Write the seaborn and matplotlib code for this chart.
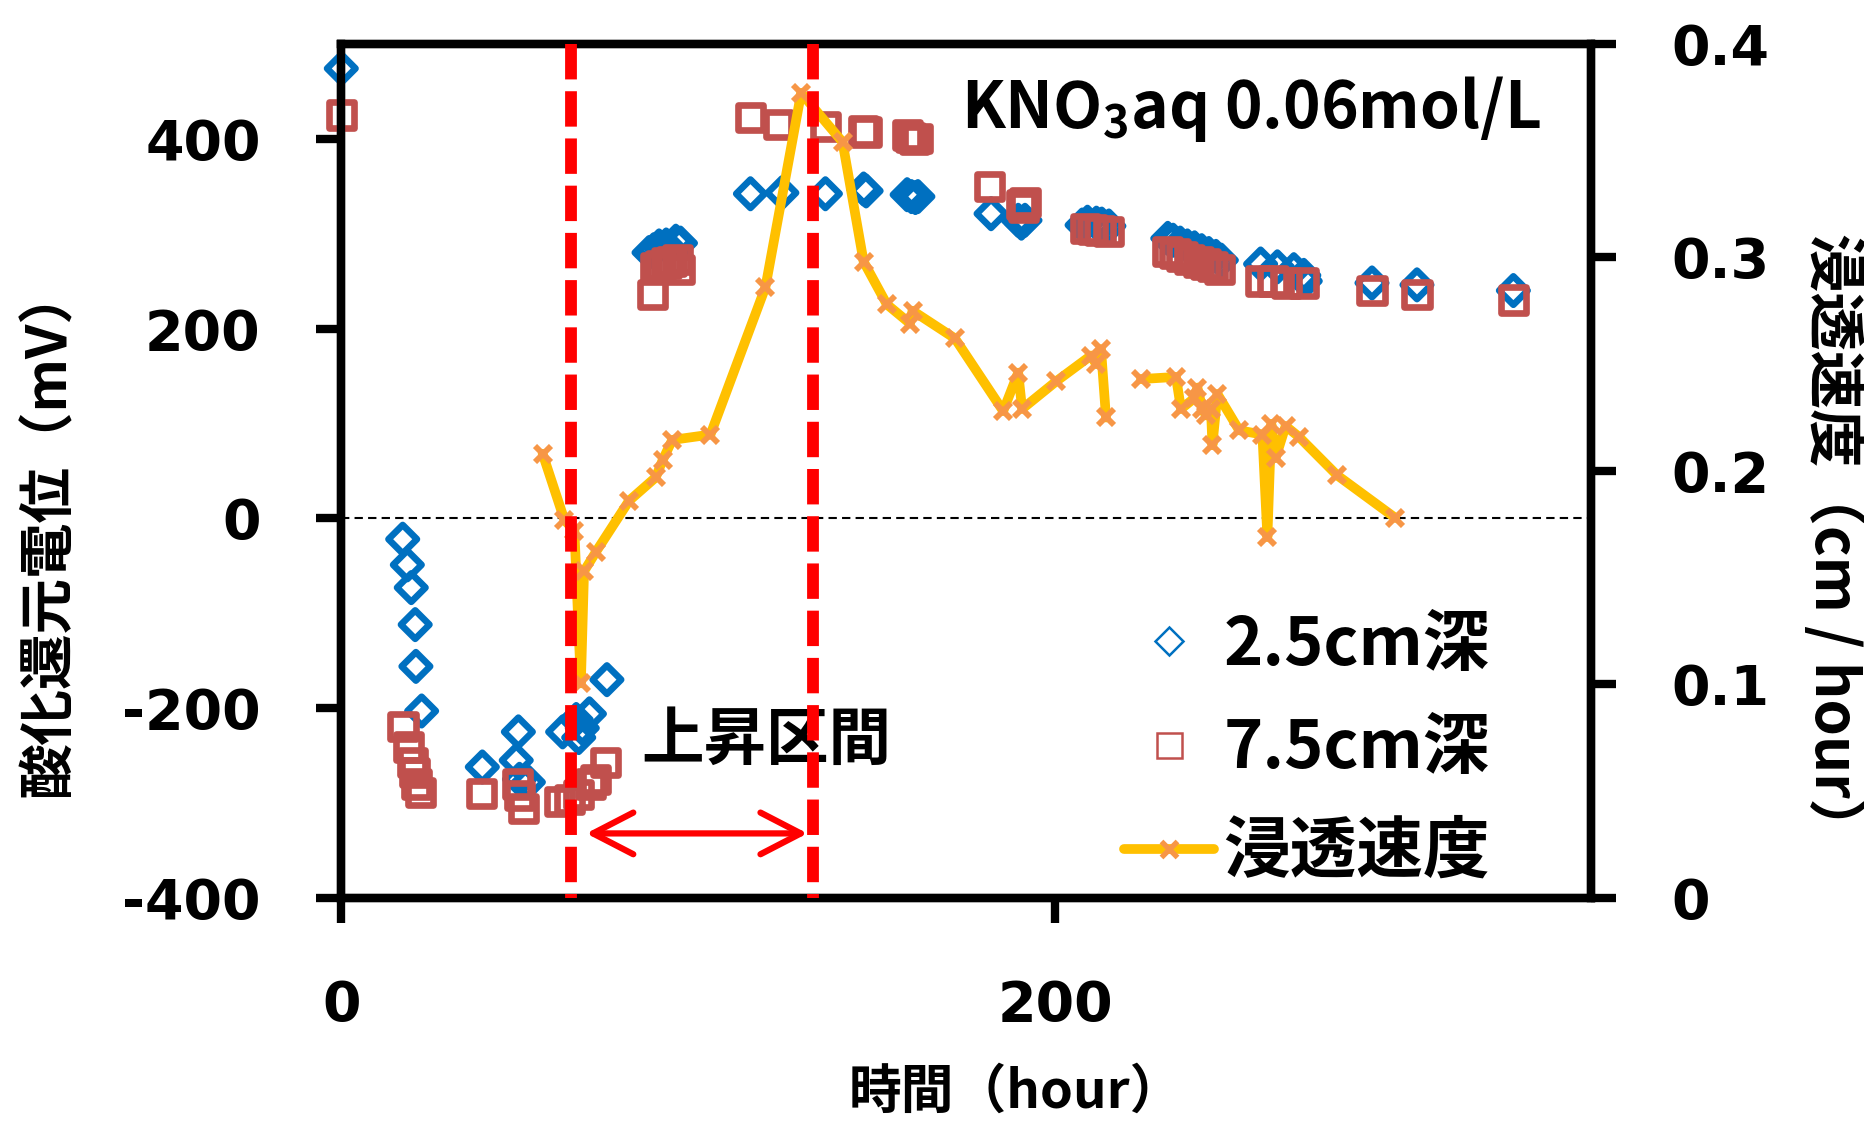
import numpy as np
import pandas as pd
import matplotlib
matplotlib.use("Agg")
import matplotlib.pyplot as plt
from matplotlib.lines import Line2D
import seaborn as sns

# Redox potential at 2.5 cm depth (hour, mV)
hours_25 = [0, 17.2, 18.5, 19.6, 20.7, 20.9, 22.5, 39.5, 49.0, 49.6, 49.9, 52.4,
            62.0, 65.8, 66.5, 67.5, 69.5, 74.4,
            86.2, 87.5, 89.0, 91.0, 93.7, 95.0,
            114.6, 123.4, 135.6, 146.3, 147.0, 158.5, 159.7, 160.8, 161.5,
            182.0, 189.6, 190.5, 191.5,
            207.5, 209.0, 211.5, 213.0, 215.0,
            231.5, 233.0, 235.0, 237.0, 239.0, 241.0, 243.0, 245.0, 246.5,
            257.5, 262.2, 266.8, 269.6, 270.0,
            288.7, 301.3, 328.3]
orp_25 = [474, -22, -49, -73, -112, -156, -203, -262, -255, -225, -275, -278,
          -225, -212, -231, -221, -206, -170,
          280, 283, 287, 288, 292, 290,
          342, 343, 342, 347, 345, 341, 339, 338, 339,
          321, 314, 311, 314,
          309, 312, 311, 310, 308,
          295, 293, 290, 287, 285, 282, 279, 276, 272,
          268, 265, 262, 256, 250,
          248, 246, 240]

# Redox potential at 7.5 cm depth (hour, mV)
hours_75 = [0, 17.3, 18.9, 20.0, 20.5, 21.0, 22.1, 39.2, 49.3, 49.9, 51.0,
            61.1, 63.9, 66.5, 69.7, 71.3, 73.9,
            87.1, 88.1, 89.5, 91.0, 92.5, 94.1, 94.6,
            114.6, 122.5, 135.6, 146.3, 147.0, 158.5, 159.5, 160.5, 161.5,
            181.6, 190.5, 191.0, 191.5,
            208.5, 210.5, 212.5, 215.0,
            231.5, 233.5, 235.5, 237.5, 240.0, 242.0, 244.0, 246.0,
            257.5, 261.0, 264.7, 269.6,
            288.7, 301.3, 328.3]
orp_75 = [425, -219, -241, -257, -268, -280, -289, -290, -280, -292, -306,
          -298, -296, -291, -280, -275, -257,
          236, 264, 266, 269, 271, 273, 262,
          422, 415, 413, 408, 407, 404, 401, 399, 400,
          350, 331, 328, 333,
          305, 304, 303, 302,
          281, 279, 276, 273, 270, 268, 265, 262,
          250, 250, 248, 248,
          240, 236, 230]

# Infiltration rate (hour, cm/hour); segment 1 starts after a gap in the record
hours_rate = [56.4, 62.5, 65.3, 67.1, 68.0, 71.3, 80.6, 88.1, 90.0, 92.7, 103.4,
              118.8, 128.8, 140.4, 146.3, 152.8, 159.3, 160.0, 171.9, 185.4,
              189.6, 190.7, 200.3, 210.0, 211.4, 212.8, 214.2,
              224.0, 233.8, 235.2, 238.9, 239.8, 241.2, 242.2, 243.6, 244.0,
              245.4, 251.5, 258.0, 259.4, 260.5, 261.7, 264.5, 268.2, 278.9, 295.2]
rate = [0.208, 0.177, 0.172, 0.1005, 0.153, 0.162, 0.186, 0.197, 0.205, 0.2145, 0.217,
        0.286, 0.377, 0.354, 0.298, 0.278, 0.269, 0.275, 0.262, 0.228,
        0.246, 0.229, 0.242, 0.254, 0.250, 0.257, 0.225,
        0.243, 0.244, 0.229, 0.234, 0.239, 0.229, 0.226, 0.229, 0.212,
        0.236, 0.219, 0.217, 0.169, 0.222, 0.206, 0.221, 0.216, 0.198, 0.178]
rate_segment = [0] * 27 + [1] * 19

# Rising interval bounds (hour)
rise_bounds = [64.3, 132.1]

series_labels = ["2.5cm深", "7.5cm深", "浸透速度"]

BLUE = "#0070C0"
BRICK = "#C0504D"
GOLD = "#FFC000"
ORANGE = "#F79646"
RED = "#FF0000"

sns.set_style("white")
plt.rcParams["font.family"] = ["Noto Sans CJK JP", "DejaVu Sans"]
plt.rcParams["axes.unicode_minus"] = False
for key in ("text.color", "axes.labelcolor", "xtick.color", "ytick.color",
            "axes.edgecolor"):
    plt.rcParams[key] = "black"
plt.rcParams["mathtext.fontset"] = "custom"
for key in ("rm", "it", "bf", "sf"):
    plt.rcParams["mathtext." + key] = "Noto Sans CJK JP:bold"

fig = plt.figure(figsize=(18.65, 11.23), dpi=100, facecolor="white")
ax = fig.add_axes([0.183, 0.2004, 0.670, 0.7606])
ax2 = ax.twinx()

ax.set_xlim(0, 350)
ax.set_ylim(-400, 500)
ax2.set_ylim(0, 0.4)

# zero reference line
ax.axhline(0, color="black", linewidth=1.5, dashes=(4, 2.5), zorder=1)

sns.scatterplot(x=hours_25, y=orp_25, marker="D", s=210, color=BLUE,
                facecolor="none", edgecolor=BLUE, linewidth=4.8,
                clip_on=False, zorder=3, legend=False, ax=ax)
sns.scatterplot(x=hours_75, y=orp_75, marker="s", s=330, color=BRICK,
                facecolor="none", edgecolor=BRICK, linewidth=4.8,
                clip_on=False, zorder=4, legend=False, ax=ax)

rate_df = pd.DataFrame({"hour": hours_rate, "rate": rate, "seg": rate_segment})
sns.lineplot(data=rate_df, x="hour", y="rate", units="seg", estimator=None,
             sort=False, color=GOLD, linewidth=7, marker="x", markersize=12,
             markeredgewidth=4.2, markeredgecolor=ORANGE, legend=False,
             zorder=3, ax=ax2)

for xb in rise_bounds:
    ax2.axvline(xb, ymin=1, ymax=0, color=RED, linewidth=8.5, dashes=(3, 1),
                dash_capstyle="butt", zorder=5)

ax.annotate("", xy=(130.6, -332), xytext=(68.6, -332),
            arrowprops=dict(arrowstyle="<->,head_length=1.45,head_width=0.75",
                            color=RED, lw=4.5, mutation_scale=20,
                            shrinkA=0, shrinkB=0, capstyle="round",
                            joinstyle="round"),
            zorder=6)
ax.text(84, -233.6, "上昇区間", ha="left", va="center", fontsize=45,
        fontweight="bold", zorder=6)
ax.text(336, 411.6, "KNO$_3$aq 0.06mol/L", ha="right", va="baseline",
        fontsize=46, fontweight="bold", zorder=6)

# axes styling
for a in (ax, ax2):
    for sp in a.spines.values():
        sp.set_linewidth(6)
        sp.set_color("black")
        sp.set_visible(True)

ax.set_xticks([0, 200])
ax.set_xticklabels(["0", "200"])
ax.set_yticks([-400, -200, 0, 200, 400])
ax.set_yticklabels(["-400", "-200", "0", "200", "400"])
ax2.set_yticks([0, 0.1, 0.2, 0.3, 0.4])
ax2.set_yticklabels(["0", "0.1", "0.2", "0.3", "0.4"])

tick_font = dict(family="DejaVu Sans", weight="bold", size=40)
for lab in ax.get_xticklabels() + ax.get_yticklabels() + ax2.get_yticklabels():
    lab.set_fontproperties(matplotlib.font_manager.FontProperties(**tick_font))
    lab.set_color("black")

ax.tick_params(axis="x", bottom=True, top=False, direction="out", length=18,
               width=6, pad=40, colors="black")
ax.tick_params(axis="y", left=True, right=False, direction="out", length=18,
               width=6, pad=40, colors="black")
ax2.tick_params(axis="y", right=True, left=False, direction="out", length=18,
                width=6, pad=40, colors="black")
ax2.tick_params(axis="x", bottom=False, top=False)

ax.set_xlabel("時間（hour）", fontsize=38, fontweight="bold", color="black")
ax.xaxis.set_label_coords(0.540, -0.196)
ax.set_ylabel("酸化還元電位（mV）", fontsize=40, fontweight="bold", color="black")
ax.yaxis.set_label_coords(-0.2116, 0.430)
ax2.set_ylabel("浸透速度（cm / hour）", fontsize=42, fontweight="bold",
               rotation=270, va="bottom", ha="center", color="black")
ax2.yaxis.set_label_coords(1.1689, 0.414)

handles = [
    Line2D([], [], ls="none", marker="D", markersize=14, markerfacecolor="none",
           markeredgecolor=BLUE, markeredgewidth=1.8),
    Line2D([], [], ls="none", marker="s", markersize=18, markerfacecolor="none",
           markeredgecolor=BRICK, markeredgewidth=1.8),
    Line2D([], [], color=GOLD, linewidth=7, solid_capstyle="round", marker="x",
           markersize=11, markeredgewidth=3.8, markeredgecolor=ORANGE),
]
leg = ax2.legend(handles, series_labels, loc="center left",
                 bbox_to_anchor=(0.626, 0.1745), frameon=False,
                 prop=dict(size=48, weight="bold"), handlelength=1.35,
                 handletextpad=0.15, labelspacing=0.55, borderpad=0,
                 borderaxespad=0, numpoints=1)
for t in leg.get_texts():
    t.set_color("black")

fig.savefig("out.png", dpi=100, facecolor="white")
